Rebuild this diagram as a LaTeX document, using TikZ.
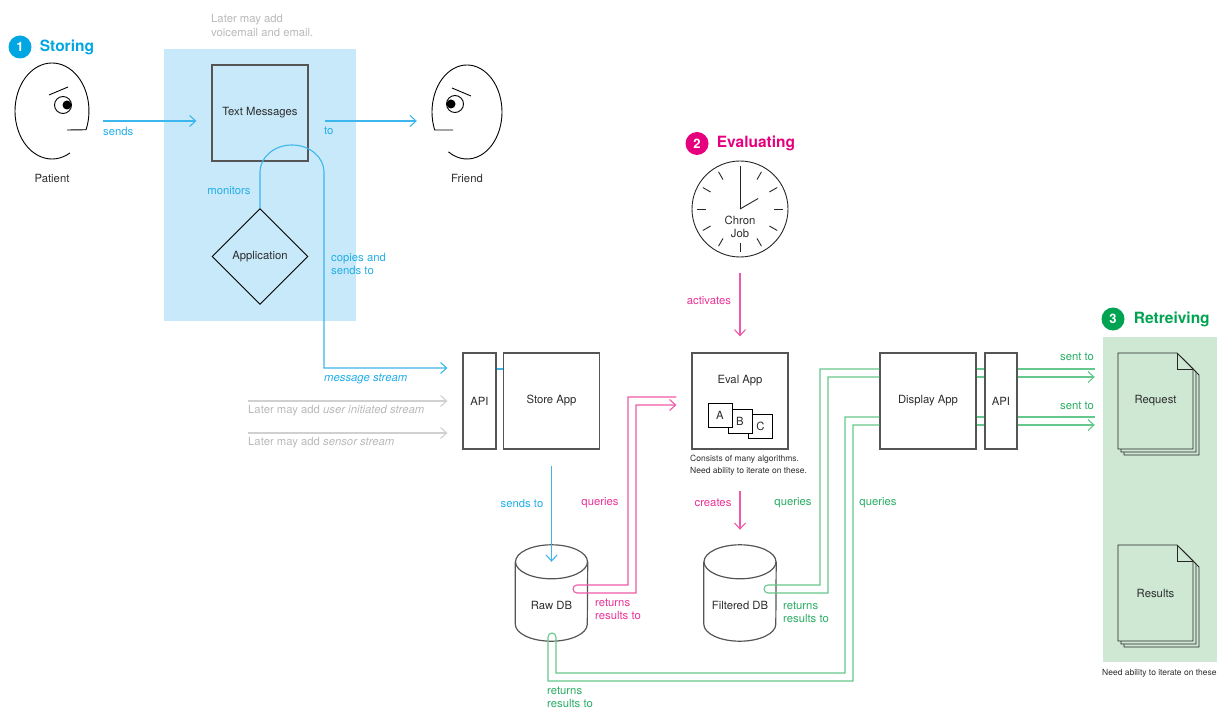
\documentclass[tikz,border=0pt]{standalone}
\usepackage{fontspec}
\setmainfont{TeX Gyre Heros}
\usetikzlibrary{arrows.meta,shapes.geometric,positioning}

\definecolor{cBlue}{RGB}{0,166,226}
\definecolor{cBlueLine}{RGB}{60,182,236}
\definecolor{cBlueText}{RGB}{35,174,232}
\definecolor{cPink}{RGB}{230,0,126}
\definecolor{cPinkLine}{RGB}{238,90,168}
\definecolor{cPinkText}{RGB}{234,50,150}
\definecolor{cGreen}{RGB}{0,163,82}
\definecolor{cGreenLine}{RGB}{100,200,140}
\definecolor{cGreenText}{RGB}{40,172,100}
\definecolor{storefill}{RGB}{199,233,249}
\definecolor{retrfill}{RGB}{206,232,212}
\definecolor{latergray}{RGB}{185,185,185}
\definecolor{laterline}{RGB}{208,208,208}
\definecolor{boxgray}{RGB}{85,85,85}
\definecolor{txtgray}{RGB}{45,45,45}

\newcommand{\lblfont}{\fontsize{11.3}{13}\selectfont}
\newcommand{\capfont}{\fontsize{8.5}{11.5}\selectfont}
\newcommand{\headfont}{\bfseries\fontsize{15.5}{18}\selectfont}
\newcommand{\numfont}{\bfseries\fontsize{13}{13}\selectfont}

\tikzset{
  lbl/.style={font=\lblfont, text=txtgray, inner sep=0pt},
  bluelbl/.style={lbl, text=cBlueText},
  pinklbl/.style={lbl, text=cPinkText},
  greenlbl/.style={lbl, text=cGreenText},
  graylbl/.style={lbl, text=latergray},
  caption/.style={font=\capfont, text=txtgray, inner sep=0pt},
  heading/.style={font=\headfont, inner sep=1pt},
  numdot/.style={circle, minimum size=23pt, inner sep=0pt, text=white, font=\numfont},
  box/.style={draw=boxgray, line width=1.2pt, minimum width=96pt, minimum height=96pt, inner sep=0pt, font=\lblfont, text=txtgray},
  decide/.style={diamond, aspect=1, draw=black, line width=0.9pt, minimum width=96pt, minimum height=96pt, inner sep=0pt, font=\lblfont, text=txtgray},
  algbox/.style={draw=black, fill=white, line width=0.9pt, minimum size=24pt, inner sep=0pt, font=\lblfont, text=txtgray},
  facebox/.style={minimum width=74pt, minimum height=96pt, inner sep=0pt},
  dbbox/.style={minimum width=72pt, minimum height=96pt, inner sep=0pt},
  docbox/.style={minimum width=75pt, minimum height=96pt, inner sep=0pt, font=\lblfont, text=txtgray},
  clockring/.style={circle, draw=black!85, line width=0.9pt, minimum size=96pt, inner sep=0pt},
  clockline/.style={draw=black!85, line width=0.9pt},
  face/.style={draw=black, line width=0.9pt},
  dbline/.style={draw=boxgray, line width=1.2pt},
  page/.style={draw=black!85, line width=0.9pt, fill=retrfill},
  blueline/.style={draw=cBlueLine, line width=1.1pt},
  bluearr/.style={blueline, -{Straight Barb[length=6pt,width=11pt]}},
  pinkarr/.style={draw=cPinkLine, line width=1.1pt, -{Straight Barb[length=6pt,width=11pt]}},
  greenline/.style={draw=cGreenLine, line width=1.1pt},
  greenarr/.style={greenline, -{Straight Barb[length=6pt,width=11pt]}},
  grayarr/.style={draw=laterline, line width=1.1pt, -{Straight Barb[length=6pt,width=11pt]}}
}

\begin{document}
\begin{tikzpicture}[x=1pt,y=-1pt]
\useasboundingbox (0,0) rectangle (1217,708);
\fill[storefill] (164,49) rectangle (356,321);
\fill[retrfill] (1103,337) rectangle (1217,662);

% headings
\node[numdot, fill=cBlue] (num1) at (20,47) {1};
\node[heading, text=cBlue, right=7pt of num1] (storing) {Storing};
\node[numdot, fill=cPink] (num2) at (697,143.5) {2};
\node[heading, text=cPink, right=7pt of num2] (evaluating) {Evaluating};
\node[numdot, fill=cGreen] (num3) at (1113,319) {3};
\node[heading, text=cGreen, right=8pt of num3] (retreiving) {Retreiving};

% patient and friend
\node[facebox] (patient) at (52,113) {};
\draw[face] ([shift={(61:37 and 48)}]52,111) arc[start angle=61, end angle=383, x radius=37, y radius=48] -- (67,130);
\draw[face] (63,105) circle[radius=8.5];
\fill (67,105) circle[radius=4.5];
\draw[face] (49,95) -- (68,87);
\node[lbl] (patientlbl) at (52,178) {Patient};

\node[facebox, minimum width=70pt] (friend) at (467,113) {};
\draw[face] (453,130) -- ([shift={(157.5:35 and 47)}]467,112) arc[start angle=157.5, end angle=482, x radius=35, y radius=47];
\draw[face] (455,104) circle[radius=8.5];
\fill (451,104) circle[radius=4.5];
\draw[face] (452,88) -- (471,96);
\node[lbl] (friendlbl) at (467,178) {Friend};

% storing
\node[graylbl, anchor=west, align=left, font=\fontsize{11.3}{14}\selectfont] (latervoice) at (211,25) {Later may add\\voicemail and email.};
\node[box] (msgs) at (260,113) {Text Messages};
\node[decide] (app) at (260,256.5) {Application};
\node[box, minimum width=33pt] (api) at (479.5,401) {API};
\node[box] (store) at (551.5,401) {Store App};

\draw[bluearr, shorten <=14pt, shorten >=15pt] ([yshift=-8pt]patient.east) -- ([yshift=-8pt]msgs.west);
\node[bluelbl, anchor=west] (sendslbl) at (103,131) {sends};
\draw[bluearr, shorten <=16pt, shorten >=15pt] ([yshift=-8pt]msgs.east) -- ([yshift=-8pt]friend.west);
\node[bluelbl, anchor=west] (tolbl) at (324,131) {to};

\draw[bluearr, shorten >=15pt] (app.north) -- (260,172) arc[start angle=180, end angle=360, x radius=32, y radius=27] |- ([yshift=33pt]api.west);
\node[bluelbl] (monlbl) at (229,191) {monitors};
\node[bluelbl, anchor=west, align=left] (copylbl) at (331,263.5) {copies and\\sends to};
\node[bluelbl, anchor=west, font=\lblfont\itshape] (streamlbl) at (324,379) {message stream};
\draw[blueline] ([yshift=32pt]api.east) -- ([yshift=32pt]store.west);

\coordinate (later1) at (248,401);
\coordinate (later2) at (248,433);
\draw[grayarr, shorten >=15pt] (later1) -- (api.west);
\draw[grayarr, shorten >=15pt] (later2) -- ([yshift=-32pt]api.west);
\node[graylbl, anchor=west] (laterusr) at (248,411) {Later may add \textit{user initiated stream}};
\node[graylbl, anchor=west] (latersns) at (248,443) {Later may add \textit{sensor stream}};

% raw db
\node[dbbox] (rawdb) at (551.5,593) {};
\draw[dbline] ([yshift=-17pt]rawdb.north west) -- ([yshift=17pt]rawdb.south west) arc[start angle=180, end angle=0, x radius=36, y radius=17] -- ([yshift=-17pt]rawdb.north east);
\draw[dbline] ([yshift=-17pt]rawdb.north) ellipse[x radius=36, y radius=17];
\node[lbl] (rawlbl) at (551.5,605) {Raw DB};
\draw[bluearr, shorten <=16pt] (store.south) -- ([yshift=-17pt]rawdb.north);
\node[bluelbl] (sendstolbl) at (522,503) {sends to};

% evaluating
\node[clockring] (chron) at (740,209) {};
\foreach \a in {0,30,...,330}
  \draw[clockline] ([shift={(\a:34)}]chron.center) -- ([shift={(\a:43)}]chron.center);
\draw[clockline] (chron.center) -- ++(0,-43);
\draw[clockline] (chron.center) -- ++(-30:21);
\node[lbl, align=center] (chronlbl) at (740,227) {Chron\\Job};

\node[box] (eval) at (740,401) {};
\node[lbl] (evallbl) at (740,381) {Eval App};
\node[algbox] (algC) at (760.5,426.5) {C};
\node[algbox] (algB) at (740,421) {B};
\node[algbox] (algA) at (720,415) {A};
\node[caption, anchor=west, align=left] (evalcap) at (690,465) {Consists of many algorithms.\\Need ability to iterate on these.};

\draw[pinkarr, shorten <=16pt, shorten >=16pt] (chron.south) -- (eval.north);
\node[pinklbl] (actlbl) at (709,301) {activates};

\node[dbbox] (filtered) at (740,593) {};
\draw[dbline] ([yshift=-17pt]filtered.north west) -- ([yshift=17pt]filtered.south west) arc[start angle=180, end angle=0, x radius=36, y radius=17] -- ([yshift=-17pt]filtered.north east);
\draw[dbline] ([yshift=-17pt]filtered.north) ellipse[x radius=36, y radius=17];
\node[lbl] (filtlbl) at (740,605) {Filtered DB};
\draw[pinkarr, shorten <=41pt, shorten >=15pt] (eval.south) -- (filtered.north);
\node[pinklbl] (createslbl) at (713,503) {creates};

% eval app queries raw db
\draw[pinkarr, shorten <=15pt, shorten >=15pt] ([yshift=4pt]eval.west) -- (628,397) -- (628,585) -- (577,585) arc[start angle=270, end angle=90, radius=4] -- (636,593) -- (636,405) -- ([yshift=-4pt]eval.west);
\node[pinklbl] (qlbl) at (600,503) {queries};
\node[pinklbl, anchor=west, align=left] (retlbl1) at (595,609.5) {returns\\results to};

% retreiving
\node[box] (display) at (928,401) {Display App};
\node[box, minimum width=32pt] (apiR) at (1001,401) {API};

\draw[greenline] ([yshift=32pt]display.west) -- (820,369) -- (820,585) -- (768,585) arc[start angle=270, end angle=90, radius=4] -- (828,593) -- (828,377) -- ([yshift=24pt]display.west);
\draw[greenline] ([yshift=-16pt]display.west) -- (845,417) -- (845,673) -- (556,673) -- (556,637) arc[start angle=0, end angle=-180, radius=4] -- (548,681) -- (853,681) -- (853,425) -- ([yshift=-24pt]display.west);
\node[greenlbl] (qlbl2) at (793,503) {queries};
\node[greenlbl] (qlbl3) at (878,503) {queries};
\node[greenlbl, anchor=west, align=left] (retlbl2) at (783,612.5) {returns\\results to};
\node[greenlbl, anchor=west, align=left] (retlbl3) at (547,697.5) {returns\\results to};

\foreach \s in {32,24,-16,-24}
  \draw[greenline] ([yshift=\s pt]display.east) -- ([yshift=\s pt]apiR.west);

% request and results pages
\foreach \d in {6,3,0}
  \draw[page] (1118+\d,353+\d) -- ++(59,0) -- ++(16,16) -- ++(0,80) -- ++(-75,0) -- cycle;
\draw[page, fill=none] (1177,353) -- (1177,369) -- (1193,369);
\node[docbox] (request) at (1155.5,401) {Request};
\foreach \d in {6,3,0}
  \draw[page] (1118+\d,545+\d) -- ++(59,0) -- ++(16,16) -- ++(0,80) -- ++(-75,0) -- cycle;
\draw[page, fill=none] (1177,545) -- (1177,561) -- (1193,561);
\node[docbox] (results) at (1155.5,593) {Results};

\draw[greenline, shorten >=23pt] ([yshift=32pt]apiR.east) -- ([yshift=32pt]request.west);
\draw[greenarr, shorten >=23pt] ([yshift=24pt]apiR.east) -- ([yshift=24pt]request.west);
\draw[greenline, shorten >=23pt] ([yshift=-16pt]apiR.east) -- ([yshift=-16pt]request.west);
\draw[greenarr, shorten >=23pt] ([yshift=-24pt]apiR.east) -- ([yshift=-24pt]request.west);
\node[greenlbl] (sentlbl1) at (1077,357) {sent to};
\node[greenlbl] (sentlbl2) at (1077,406) {sent to};
\node[caption, anchor=west] (retrcap) at (1102,673) {Need ability to iterate on these};
\end{tikzpicture}
\end{document}
